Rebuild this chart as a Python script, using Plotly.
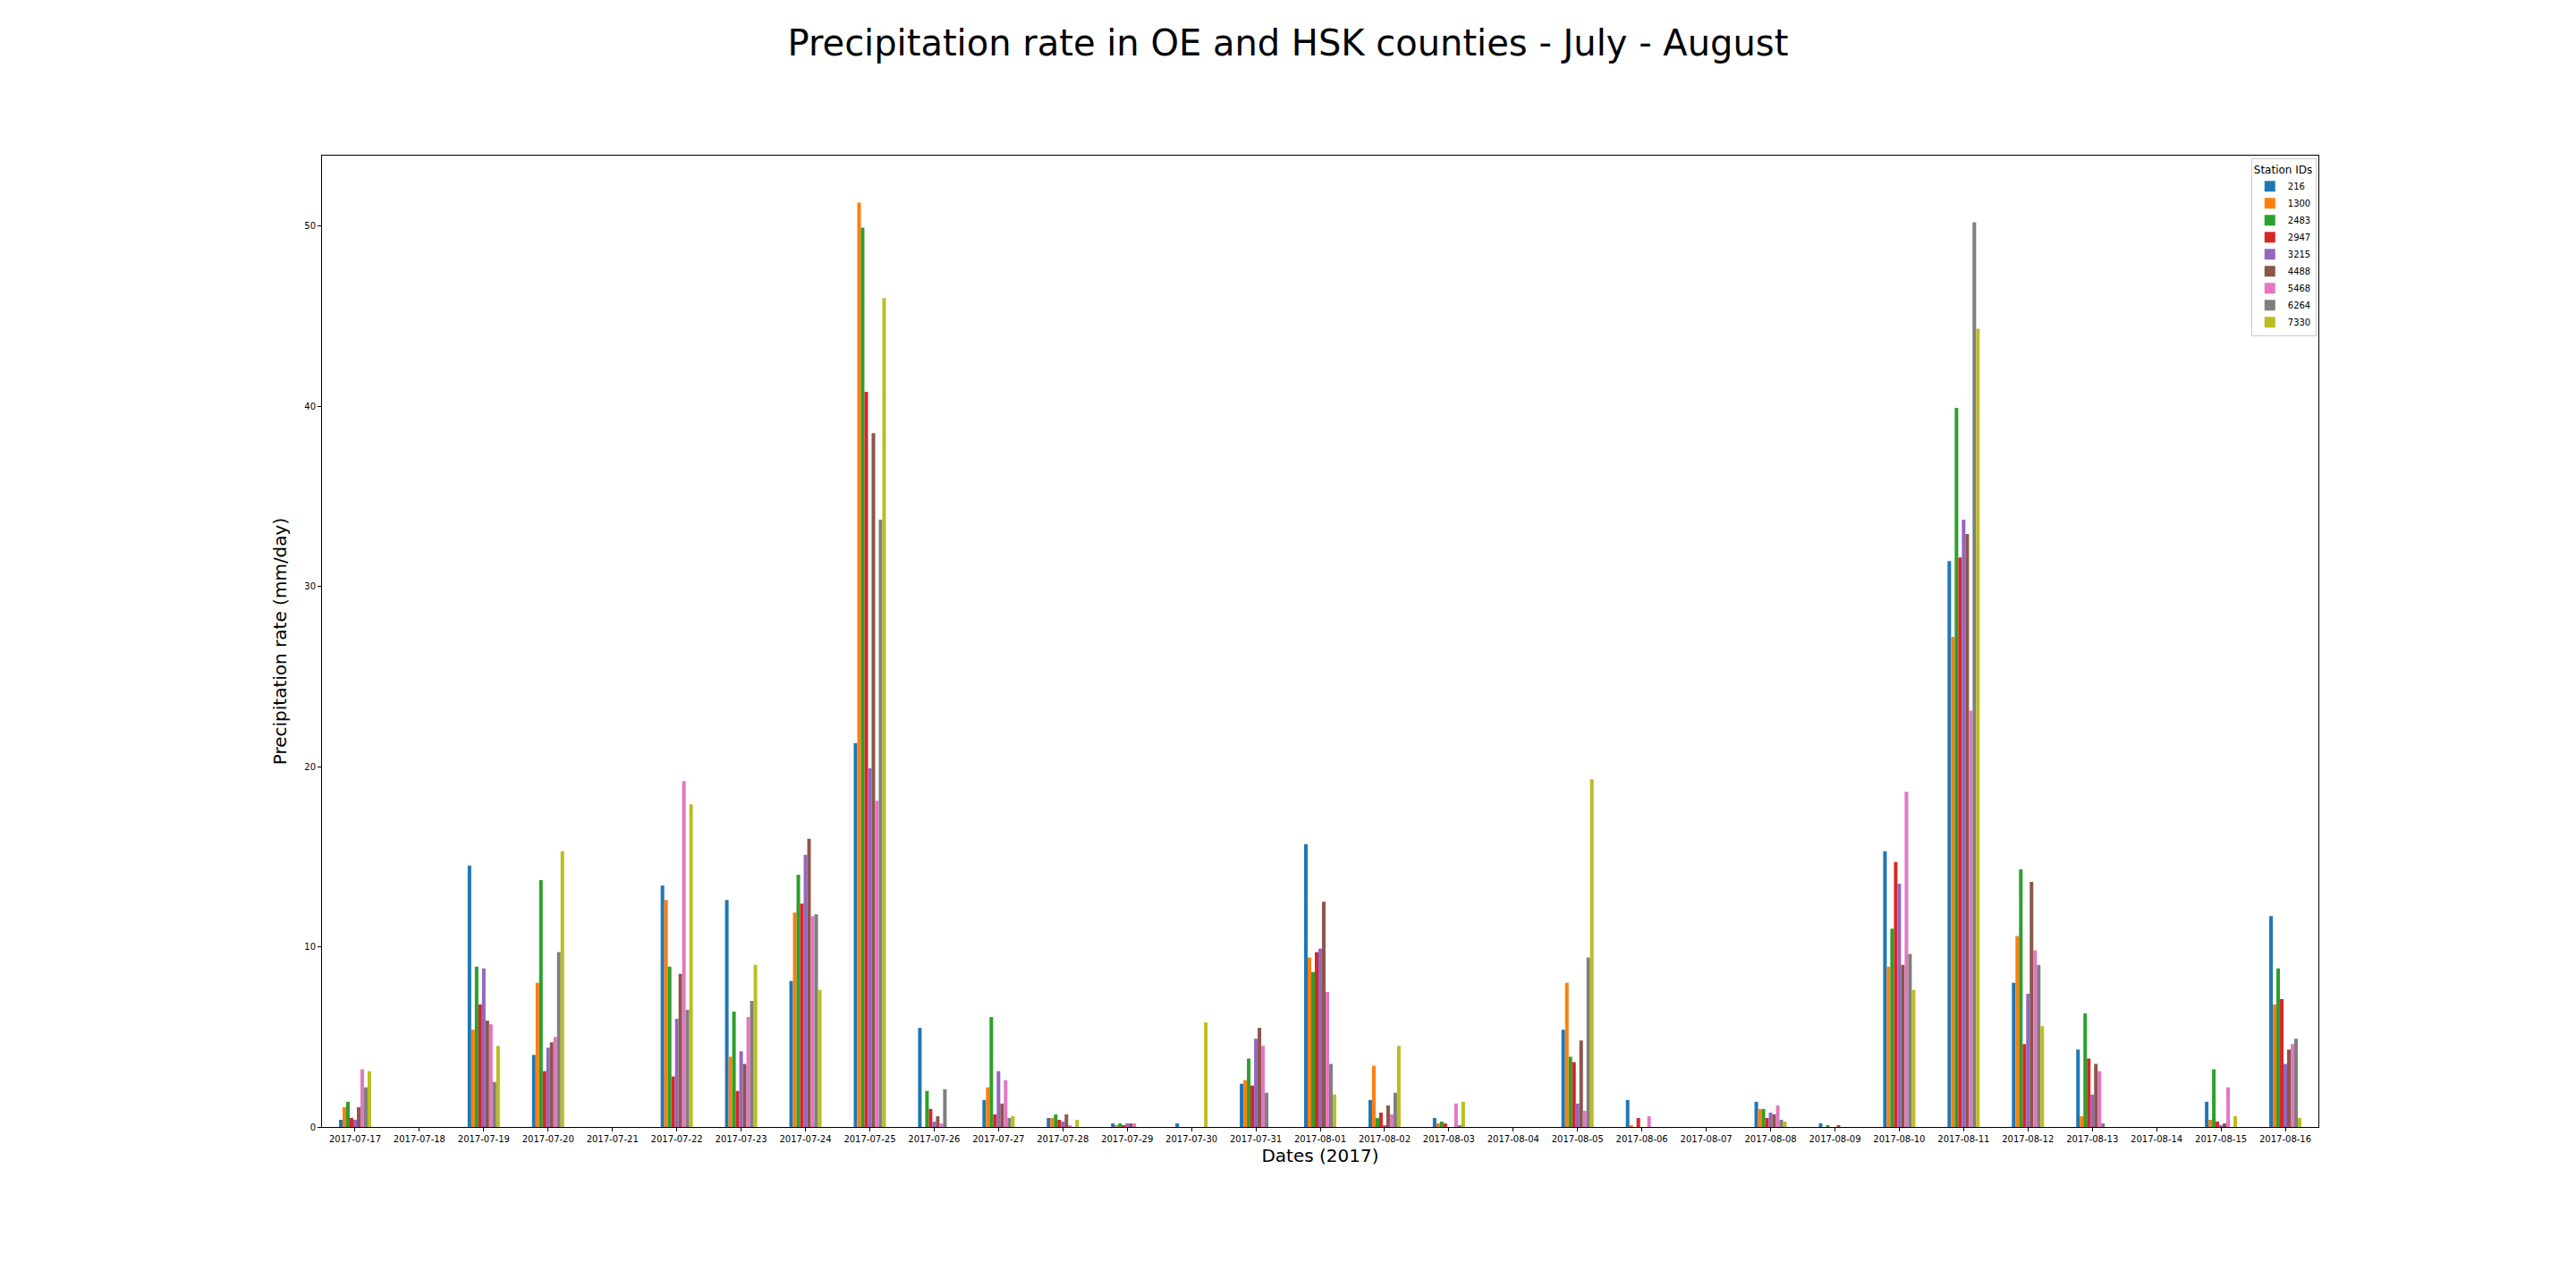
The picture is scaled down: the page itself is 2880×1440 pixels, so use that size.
import plotly.graph_objects as go

# Dates (categories on the x axis)
dates = [
    "2017-07-17", "2017-07-18", "2017-07-19", "2017-07-20", "2017-07-21",
    "2017-07-22", "2017-07-23", "2017-07-24", "2017-07-25", "2017-07-26",
    "2017-07-27", "2017-07-28", "2017-07-29", "2017-07-30", "2017-07-31",
    "2017-08-01", "2017-08-02", "2017-08-03", "2017-08-04", "2017-08-05",
    "2017-08-06", "2017-08-07", "2017-08-08", "2017-08-09", "2017-08-10",
    "2017-08-11", "2017-08-12", "2017-08-13", "2017-08-14", "2017-08-15",
    "2017-08-16",
]

# Precipitation rate (mm/day) per station
s216 = [0.4, 0, 14.5, 4.0, 0, 13.4, 12.6, 8.1, 21.3, 5.5, 1.5, 0.5, 0.2, 0.2, 2.4, 15.7,
        1.5, 0.5, 0, 5.4, 1.5, 0, 1.4, 0.2, 15.3, 31.4, 8.0, 4.3, 0, 1.4, 11.7]
s1300 = [1.1, 0, 5.4, 8.0, 0, 12.6, 3.9, 11.9, 51.3, 0, 2.2, 0.5, 0.1, 0, 2.6, 9.4,
         3.4, 0.2, 0, 8.0, 0.1, 0, 1.0, 0, 8.9, 27.2, 10.6, 0.6, 0, 0.4, 6.8]
s2483 = [1.4, 0, 8.9, 13.7, 0, 8.9, 6.4, 14.0, 49.9, 2.0, 6.1, 0.7, 0.2, 0, 3.8, 8.6,
         0.5, 0.3, 0, 3.9, 0, 0, 1.0, 0.1, 11.0, 39.9, 14.3, 6.3, 0, 3.2, 8.8]
s2947 = [0.5, 0, 6.8, 3.1, 0, 2.8, 2.0, 12.4, 40.8, 1.0, 0.7, 0.4, 0.1, 0, 2.3, 9.7,
         0.8, 0.2, 0, 3.6, 0.5, 0, 0.5, 0, 14.7, 31.6, 4.6, 3.8, 0, 0.3, 7.1]
s3215 = [0.4, 0, 8.8, 4.4, 0, 6.0, 4.2, 15.1, 19.9, 0.3, 3.1, 0.3, 0.2, 0, 4.9, 9.9,
         0.1, 0, 0, 1.3, 0, 0, 0.8, 0, 13.5, 33.7, 7.4, 1.8, 0, 0.1, 3.5]
s4488 = [1.1, 0, 5.9, 4.7, 0, 8.5, 3.5, 16.0, 38.5, 0.6, 1.3, 0.7, 0.2, 0, 5.5, 12.5,
         1.2, 0, 0, 4.8, 0, 0, 0.7, 0.1, 9.0, 32.9, 13.6, 3.5, 0, 0.2, 4.3]
s5468 = [3.2, 0, 5.7, 5.0, 0, 19.2, 6.1, 11.7, 18.1, 0.2, 2.6, 0.1, 0.2, 0, 4.5, 7.5,
         0.7, 1.3, 0, 0.9, 0.6, 0, 1.2, 0, 18.6, 23.1, 9.8, 3.1, 0, 2.2, 4.6]
s6264 = [2.2, 0, 2.5, 9.7, 0, 6.5, 7.0, 11.8, 33.7, 2.1, 0.5, 0, 0, 0, 1.9, 3.5,
         1.9, 0.1, 0, 9.4, 0, 0, 0.4, 0, 9.6, 50.2, 9.0, 0.2, 0, 0, 4.9]
s7330 = [3.1, 0, 4.5, 15.3, 0, 17.9, 9.0, 7.6, 46.0, 0, 0.6, 0.4, 0, 5.8, 0, 1.8,
         4.5, 1.4, 0, 19.3, 0, 0, 0.3, 0, 7.6, 44.3, 5.6, 0, 0, 0.6, 0.5]

stations = ["216", "1300", "2483", "2947", "3215", "4488", "5468", "6264", "7330"]
series = [s216, s1300, s2483, s2947, s3215, s4488, s5468, s6264, s7330]
colors = ["#1f77b4", "#ff7f0e", "#2ca02c", "#d62728", "#9467bd",
          "#8c564b", "#e377c2", "#7f7f7f", "#bcbd22"]

fig = go.Figure()
for name, vals, col in zip(stations, series, colors):
    fig.add_trace(go.Bar(x=dates, y=vals, name=name, marker_color=col,
                         marker_line_width=0))

axis_style = dict(
    showline=True, linecolor="black", linewidth=1, mirror=True,
    ticks="outside", ticklen=4, tickcolor="black", showgrid=False,
    zeroline=False, tickfont=dict(size=10, color="black"),
)

# page has an 8px body margin, so shift margins/title to compensate
fig.update_layout(
    width=2880, height=1440,
    paper_bgcolor="white", plot_bgcolor="white",
    font=dict(family="DejaVu Sans", color="black"),
    title=dict(text="Precipitation rate in OE and HSK counties - July - August",
               x=0.4972, xanchor="center", y=0.972, yanchor="middle",
               font=dict(size=40)),
    barmode="group", bargap=0.5, bargroupgap=0,
    margin=dict(l=352, r=296, t=166, b=188),
    legend=dict(title=dict(text="Station IDs", side="top"),
                x=0.999, xanchor="right", y=0.997, yanchor="top",
                bordercolor="#cccccc", borderwidth=1, bgcolor="rgba(255,255,255,0.8)",
                font=dict(size=10), tracegroupgap=0, itemwidth=30),
    showlegend=True,
)
fig.update_xaxes(**axis_style, type="category", range=[-0.514, 30.514],
                 tickangle=0,
                 title=dict(text="Dates (2017)", font=dict(size=20), standoff=6))
fig.update_yaxes(**axis_style, range=[0, 53.9], tickvals=[0, 10, 20, 30, 40, 50],
                 title=dict(text="Precipitation rate (mm/day)", font=dict(size=20),
                            standoff=14))

fig.write_html("out.html")
